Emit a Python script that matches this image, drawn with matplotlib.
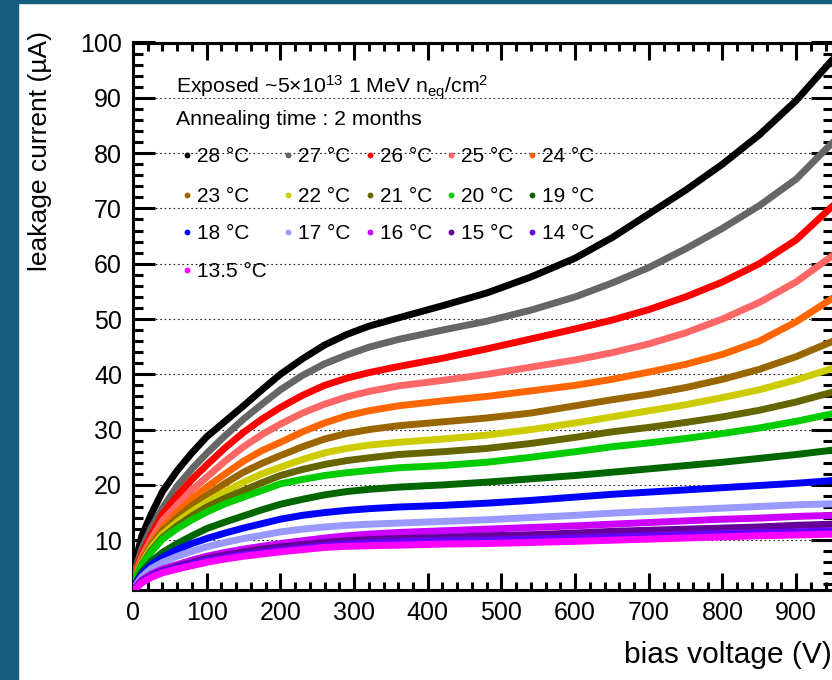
import numpy as np
import matplotlib.pyplot as plt
from matplotlib.patches import Rectangle
from matplotlib.ticker import MultipleLocator

plt.rcParams['font.family'] = ['Liberation Sans', 'DejaVu Sans']
plt.rcParams['mathtext.fontset'] = 'custom'
plt.rcParams['mathtext.rm'] = 'Liberation Sans'
plt.rcParams['mathtext.it'] = 'Liberation Sans:italic'

bias_v = [0, 4, 12, 25, 40, 60, 80, 100, 125, 150, 175, 200, 230, 260, 290, 320,
          360, 420, 480, 540, 600, 650, 700, 750, 800, 850, 900, 950]

# leakage current (uA) per temperature
i_28 = [0.5, 6.5, 10.8, 14.8, 18.8, 22.6, 25.8, 28.7, 31.5, 34.3, 37.2, 40.0, 42.8, 45.3,
        47.2, 48.7, 50.2, 52.4, 54.7, 57.6, 61.0, 64.7, 69.0, 73.3, 78.0, 83.3, 89.5, 97.0]
i_27 = [0.5, 5.0, 8.5, 12.3, 15.8, 19.8, 22.9, 25.7, 28.9, 31.9, 34.6, 37.2, 39.8, 41.9,
        43.5, 44.9, 46.3, 48.0, 49.6, 51.6, 54.0, 56.5, 59.3, 62.7, 66.4, 70.5, 75.3, 82.0]
i_26 = [0.5, 4.3, 7.6, 11.0, 14.7, 18.0, 21.0, 23.6, 26.7, 29.5, 31.9, 34.0, 36.2, 38.0,
        39.3, 40.3, 41.4, 42.9, 44.6, 46.4, 48.2, 49.8, 51.7, 54.0, 56.7, 60.0, 64.3, 70.5]
i_25 = [0.5, 3.9, 7.0, 10.2, 13.5, 16.4, 19.1, 21.4, 24.3, 26.9, 29.1, 31.0, 33.0, 34.6,
        35.9, 36.9, 37.9, 38.9, 40.0, 41.3, 42.6, 43.9, 45.5, 47.5, 50.0, 53.0, 56.7, 61.5]
i_24 = [0.5, 3.6, 6.5, 9.5, 12.3, 15.0, 17.5, 19.6, 22.0, 24.3, 26.2, 27.7, 29.6, 31.2,
        32.5, 33.4, 34.3, 35.2, 36.0, 37.0, 38.0, 39.1, 40.4, 41.8, 43.6, 46.0, 49.5, 53.8]
i_23 = [0.5, 3.4, 6.2, 9.1, 11.7, 14.1, 16.3, 18.1, 20.3, 22.3, 23.9, 25.3, 26.9, 28.3,
        29.3, 30.0, 30.7, 31.4, 32.1, 33.0, 34.3, 35.4, 36.4, 37.6, 39.1, 40.9, 43.2, 46.0]
i_22 = [0.5, 3.2, 5.9, 8.7, 11.1, 13.3, 15.2, 16.9, 18.8, 20.5, 22.0, 23.2, 24.6, 25.8,
        26.6, 27.2, 27.7, 28.3, 29.0, 30.0, 31.2, 32.3, 33.4, 34.5, 35.8, 37.2, 39.0, 41.1]
i_21 = [0.5, 3.1, 5.6, 8.2, 10.5, 12.6, 14.4, 16.0, 17.6, 19.0, 20.4, 21.7, 22.8, 23.7,
        24.4, 24.9, 25.5, 26.0, 26.6, 27.5, 28.6, 29.6, 30.4, 31.3, 32.3, 33.5, 35.0, 36.8]
i_20 = [0.5, 3.0, 5.4, 7.9, 10.2, 12.1, 13.7, 15.1, 16.6, 17.8, 19.0, 20.2, 21.0, 21.7,
        22.2, 22.6, 23.1, 23.5, 24.1, 25.0, 26.0, 26.9, 27.6, 28.4, 29.3, 30.3, 31.5, 32.9]
i_19 = [0.5, 2.4, 4.3, 6.2, 7.8, 9.4, 10.8, 12.1, 13.3, 14.4, 15.5, 16.5, 17.4, 18.2,
        18.8, 19.2, 19.6, 20.0, 20.5, 21.1, 21.7, 22.3, 22.9, 23.5, 24.1, 24.8, 25.5, 26.3]
i_18 = [0.5, 2.2, 3.9, 5.6, 6.9, 8.3, 9.4, 10.3, 11.3, 12.2, 13.0, 13.8, 14.5, 15.0,
        15.4, 15.7, 16.0, 16.3, 16.7, 17.2, 17.8, 18.3, 18.7, 19.1, 19.5, 19.9, 20.3, 20.8]
i_17 = [0.5, 1.9, 3.4, 4.9, 6.0, 7.1, 8.0, 8.8, 9.6, 10.3, 10.9, 11.5, 12.0, 12.4,
        12.7, 12.9, 13.1, 13.4, 13.7, 14.1, 14.5, 14.9, 15.2, 15.5, 15.8, 16.1, 16.4, 16.6]
i_16 = [0.5, 1.6, 2.8, 3.9, 4.8, 5.6, 6.4, 7.1, 7.8, 8.4, 8.9, 9.4, 9.9, 10.4,
        10.8, 11.1, 11.4, 11.7, 12.0, 12.3, 12.6, 12.9, 13.2, 13.5, 13.8, 14.0, 14.3, 14.5]
i_15 = [0.5, 1.5, 2.6, 3.7, 4.5, 5.3, 6.0, 6.7, 7.3, 7.9, 8.4, 8.8, 9.2, 9.6,
        9.9, 10.1, 10.3, 10.5, 10.8, 11.0, 11.3, 11.6, 11.8, 12.0, 12.2, 12.4, 12.7, 12.9]
i_14 = [0.5, 1.4, 2.5, 3.5, 4.3, 5.0, 5.7, 6.3, 6.9, 7.4, 7.8, 8.2, 8.6, 9.0,
        9.3, 9.5, 9.7, 9.9, 10.0, 10.2, 10.4, 10.6, 10.8, 11.0, 11.2, 11.4, 11.5, 11.7]
i_135 = [0.5, 1.3, 2.3, 3.3, 4.1, 4.8, 5.4, 6.0, 6.6, 7.1, 7.5, 7.9, 8.3, 8.7,
         8.9, 9.0, 9.1, 9.3, 9.4, 9.6, 9.8, 10.0, 10.2, 10.4, 10.6, 10.8, 10.95, 11.1]

temps = ['28', '27', '26', '25', '24', '23', '22', '21', '20', '19',
         '18', '17', '16', '15', '14', '13.5']
colors = ['#000000', '#666666', '#ff0000', '#ff6666', '#ff6600',
          '#996600', '#cccc00', '#666600', '#00cc00', '#006600',
          '#0000ff', '#9999ff', '#cc00ff', '#660099', '#6600ff', '#ff00ff']
currents = [i_28, i_27, i_26, i_25, i_24, i_23, i_22, i_21, i_20, i_19,
            i_18, i_17, i_16, i_15, i_14, i_135]

W, H = 832, 680
BORDER = '#165e7f'


def fx(px):
  return px / W


def fy(py):
  return 1 - py / H


fig = plt.figure(figsize=(W / 100, H / 100), dpi=100)
fig.patches.append(Rectangle((0, 0), fx(18), 1, transform=fig.transFigure,
                             color=BORDER, zorder=0))
fig.patches.append(Rectangle((0, fy(3)), 1, 3 / H, transform=fig.transFigure,
                             color=BORDER, zorder=0))

ax = fig.add_axes([fx(133), fy(590), fx(833 - 133), (590 - 42.5) / H])
ax.set_xlim(0, 950)
ax.set_ylim(1, 100)

for t, c, cur in zip(temps, colors, currents):
  ax.plot(bias_v, cur, color=c, lw=5, solid_joinstyle='round',
          solid_capstyle='round', zorder=3)

for yv in range(10, 100, 10):
  ax.axhline(yv, color='#222222', lw=0.8, ls=(0, (1.5, 2.5)), zorder=1)

ax.xaxis.set_major_locator(MultipleLocator(100))
ax.xaxis.set_minor_locator(MultipleLocator(20))
ax.yaxis.set_major_locator(MultipleLocator(10))
ax.yaxis.set_minor_locator(MultipleLocator(2))
ax.set_yticks(range(10, 101, 10))

ax.tick_params(axis='both', which='both', direction='in', top=True, right=True,
               width=2.2, labelsize=18)
ax.tick_params(axis='x', which='major', length=12.5, pad=8)
ax.tick_params(axis='x', which='minor', length=6)
ax.tick_params(axis='y', which='major', length=15.5, pad=8)
ax.tick_params(axis='y', which='minor', length=7.5)
for sp in ax.spines.values():
  sp.set_linewidth(2.2)

fig.text(fx(40), fy(31), 'leakage current (µA)', rotation=90, ha='center',
         va='top', fontsize=19)
fig.text(fx(832), fy(655), 'bias voltage (V)', ha='right', va='center',
         fontsize=21.5)

# legend block, ROOT style, no frame
fig.text(fx(176), fy(93), 'Exposed ~5×10$^{13}$ 1 MeV n$_{\\rm eq}$/cm$^{2}$',
         fontsize=15.3, va='baseline')
fig.text(fx(176), fy(125), 'Annealing time : 2 months', fontsize=15.3,
         va='baseline')

col_x = [187, 288, 370, 451, 532]
row_y = [155, 195, 232, 270]
for k, (t, c) in enumerate(zip(temps, colors)):
  x0 = col_x[k % 5]
  y0 = row_y[k // 5]
  ax.plot([fx(x0)], [fy(y0)], 'o', ms=4.2, color=c, mec='none',
          transform=fig.transFigure, clip_on=False, zorder=5)
  fig.text(fx(x0 + 10), fy(y0 + 7), t + ' °C', fontsize=15, va='baseline')

fig.savefig('out.png', dpi=100)
